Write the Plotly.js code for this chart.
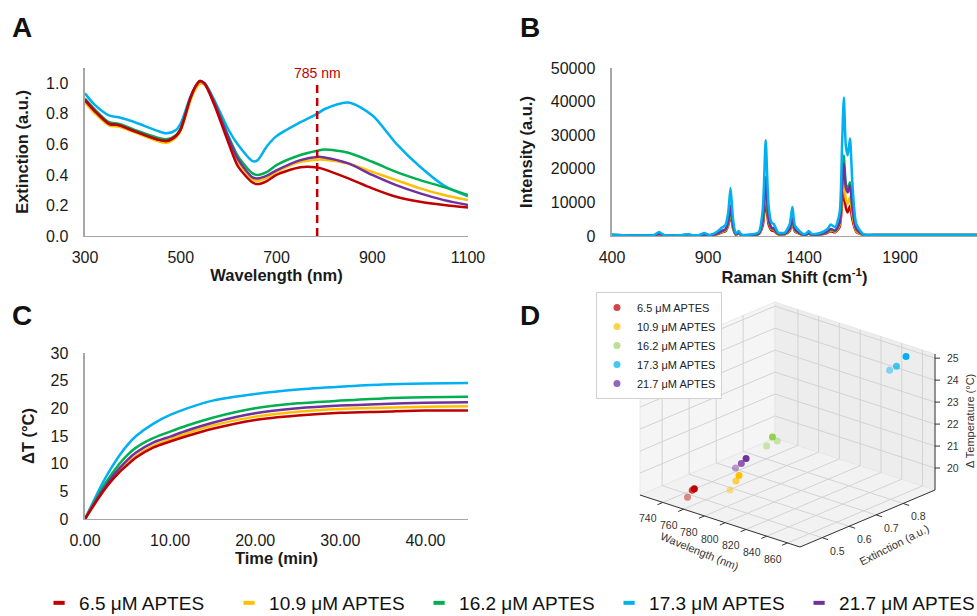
<!DOCTYPE html>
<html><head><meta charset="utf-8">
<script src="https://cdn.plot.ly/plotly-3.0.1.min.js"></script>
<style>html,body{margin:0;padding:0;background:#fff}#chart{width:977px;height:616px}</style>
</head><body><div id="chart"></div>
<script>
// ---------- common ----------
const seriesNames = ['6.5 μM APTES','10.9 μM APTES','16.2 μM APTES','17.3 μM APTES','21.7 μM APTES'];
const lineColors = ['#c00000','#ffc000','#00b050','#00b0f0','#7030a0'];
const dotColors  = ['#c00000','#ffc000','#92d050','#00b0f0','#7030a0'];

// ---------- Panel A: extinction spectra ----------
const wlA = [300,320,350,370,400,450,470,490,500,520,530,540,550,570,600,620,650,660,680,700,750,785,800,850,900,950,1000,1050,1100];
const extA_65  = [0.89,0.82,0.735,0.727,0.69,0.633,0.622,0.655,0.70,0.90,0.975,1.015,0.995,0.86,0.607,0.454,0.35,0.34,0.36,0.40,0.45,0.448,0.436,0.377,0.312,0.257,0.224,0.203,0.187];
const extA_109 = [0.873,0.805,0.725,0.716,0.683,0.624,0.611,0.645,0.69,0.885,0.955,0.996,0.99,0.87,0.63,0.487,0.371,0.362,0.38,0.42,0.486,0.50,0.50,0.475,0.42,0.366,0.312,0.268,0.235];
const extA_162 = [0.90,0.83,0.745,0.735,0.70,0.646,0.633,0.66,0.705,0.90,0.97,1.01,0.995,0.88,0.65,0.52,0.41,0.40,0.42,0.464,0.53,0.558,0.566,0.545,0.486,0.42,0.366,0.32,0.268];
const extA_173 = [0.934,0.86,0.79,0.777,0.75,0.69,0.672,0.694,0.738,0.91,0.974,1.01,1.0,0.89,0.694,0.596,0.49,0.495,0.588,0.654,0.745,0.80,0.83,0.874,0.79,0.605,0.453,0.33,0.26];
const extA_217 = [0.89,0.82,0.735,0.727,0.69,0.633,0.622,0.655,0.70,0.905,0.975,1.015,1.0,0.875,0.64,0.50,0.384,0.377,0.395,0.43,0.497,0.518,0.514,0.475,0.40,0.333,0.279,0.235,0.203];
const laserLine = 785;

// ---------- Panel B: Raman spectra ----------
const ramanShift = [400,620,645,670,760,790,820,855,880,905,945,972,990,1005,1017,1030,1045,1059,1075,1130,1165,1185,1200,1215,1230,1242,1265,1300,1325,1339,1353,1395,1412,1424,1440,1480,1520,1539,1562,1585,1598,1607,1617,1627,1639,1651,1672,1710,1800,2100,2300];
const int_65  = [300,250,500,250,200,280,200,250,380,200,500,1100,1400,3200,6600,2300,380,750,260,280,600,3200,10600,3500,1700,1500,500,500,1500,3700,1300,320,400,650,320,400,900,1400,1100,2700,9600,14000,8500,7000,9000,5000,1200,320,300,300,300];
const int_109 = [300,250,600,250,200,300,200,250,420,200,600,1250,1650,3700,7500,2600,400,850,280,300,700,4200,14500,4600,2100,1900,600,600,1700,4300,1500,350,430,750,350,430,1050,1700,1300,3300,12000,17500,11000,9600,11600,6500,1500,350,300,300,300];
const int_162 = [300,250,650,250,200,330,200,250,470,200,650,1400,1800,4000,8000,2900,450,950,300,330,750,4600,16000,5100,2300,2100,650,650,1900,4800,1700,380,480,850,380,480,1250,2000,1500,4200,16500,24000,15500,14000,16000,8800,2000,400,300,300,300];
const int_173 = [400,300,1200,300,250,500,250,300,900,300,1200,2500,3200,7000,14300,5000,700,1500,400,500,1200,8000,28500,9000,4000,3600,1000,1000,3500,8600,3000,600,800,1500,600,800,2000,3400,2600,7000,28000,41200,27000,24000,29000,16000,3500,500,300,300,300];
const int_217 = [300,250,700,250,200,350,200,250,500,200,700,1500,2000,4400,9100,3200,500,1000,300,350,800,5000,17500,5500,2500,2300,700,700,2100,5200,1900,400,500,900,400,500,1300,2100,1600,4000,15000,21500,14500,13000,15000,8500,2000,400,300,300,300];

// ---------- Panel C: photothermal heating ----------
const timeMin = [0,1,2,3,4,5,6,8,10,12,15,20,25,30,35,40,45];
const dT_65  = [0,2.4,4.7,6.7,8.4,9.8,11.1,12.9,14.0,15.0,16.3,17.9,18.7,19.2,19.4,19.6,19.6];
const dT_109 = [0,2.5,4.8,6.9,8.7,10.1,11.4,13.2,14.4,15.5,16.9,18.5,19.4,19.9,20.1,20.3,20.4];
const dT_162 = [0,2.8,5.5,7.8,9.9,11.6,12.9,14.6,15.8,16.9,18.3,20.0,20.9,21.4,21.8,22.0,22.1];
const dT_173 = [0,3.2,6.3,9.0,11.4,13.4,15.0,17.2,18.8,20.0,21.4,22.6,23.4,23.9,24.3,24.5,24.6];
const dT_217 = [0,2.6,5.0,7.2,9.1,10.7,12.0,13.8,14.9,16.0,17.4,19.1,20.0,20.5,20.8,21.0,21.1];

// ---------- Panel D: 3D scatter (wavelength, extinction, ΔT) ----------
const d3_wl  = [[758,760,762],[786,789,792],[803,806,808],[846,850,854],[786,789,791]];
const d3_ext = [[0.44,0.45,0.45],[0.49,0.50,0.50],[0.56,0.57,0.58],[0.85,0.86,0.88],[0.51,0.52,0.53]];
const d3_dT  = [[19.4,19.7,19.8],[19.9,20.3,20.6],[21.8,22.2,22.0],[24.4,24.6,25.0],[20.8,21.0,21.2]];
const d3_wlTicks  = [740,760,780,800,820,840,860];
const d3_extTicks = [0.5,0.6,0.7,0.8];
const d3_dTTicks  = [20,21,22,23,24,25];

const specA = [extA_65, extA_109, extA_162, extA_173, extA_217];
const specB = [int_65, int_109, int_162, int_173, int_217];
const curvesC = [dT_65, dT_109, dT_162, dT_173, dT_217];

const FONT = 'Arial, "Liberation Sans", sans-serif';
const traces = [];
const drawOrder = [3,2,1,4,0];
drawOrder.forEach(i => traces.push({type:'scatter', mode:'lines', x:wlA, y:specA[i], xaxis:'x', yaxis:'y',
  line:{color:lineColors[i], width:2.5, shape:'spline', smoothing:0.8}, showlegend:false, name:seriesNames[i]}));
[0,1,2,4,3].forEach(i => traces.push({type:'scatter', mode:'lines', x:ramanShift, y:specB[i], xaxis:'x2', yaxis:'y2',
  line:{color:lineColors[i], width:2.5, shape:'spline', smoothing:0.6}, showlegend:false, name:seriesNames[i]}));
drawOrder.forEach(i => traces.push({type:'scatter', mode:'lines', x:timeMin, y:curvesC[i], xaxis:'x3', yaxis:'y3',
  line:{color:lineColors[i], width:2.5, shape:'spline', smoothing:0.8}, showlegend:false, name:seriesNames[i]}));

// ---- Panel D: oblique projection of the 3D box (WebGL-free) ----
const box = {wl:[718,872], ext:[0.418,0.918], dT:[19.0,25.19]};
const O = [640,495], EX = [160,52], EY = [135,-57], EZ = [0,-136];
function P(wl, ext, t){
  const a=(wl-box.wl[0])/(box.wl[1]-box.wl[0]), b=(ext-box.ext[0])/(box.ext[1]-box.ext[0]), c=(t-box.dT[0])/(box.dT[1]-box.dT[0]);
  return [O[0]+a*EX[0]+b*EY[0]+c*EZ[0], O[1]+a*EX[1]+b*EY[1]+c*EZ[1]];
}
function depth(wl, ext, t){
  const a=(wl-box.wl[0])/(box.wl[1]-box.wl[0]), b=(ext-box.ext[0])/(box.ext[1]-box.ext[0]), c=(t-box.dT[0])/(box.dT[1]-box.dT[0]);
  return -(0.43*a - 0.75*b + 0.5*c);
}
for (let i=0;i<5;i++){
  const px=[], py=[], op=[];
  const ds = d3_wl[i].map((w,k)=>depth(w,d3_ext[i][k],d3_dT[i][k]));
  const dmin=Math.min(...ds), dmax=Math.max(...ds);
  d3_wl[i].forEach((w,k)=>{ const p=P(w,d3_ext[i][k],d3_dT[i][k]); px.push(p[0]); py.push(p[1]);
    op.push(dmax>dmin ? 1-0.55*(ds[k]-dmin)/(dmax-dmin) : 1); });
  traces.push({type:'scatter', mode:'markers', x:px, y:py, xaxis:'x4', yaxis:'y4', cliponaxis:false,
    marker:{color:dotColors[i], size:7, opacity:op, line:{width:0}}, name:seriesNames[i], legend:'legend2'});
}
// bottom shared legend
for (let i=0;i<5;i++) traces.push({type:'scatter', mode:'markers', x:[null], y:[null], xaxis:'x', yaxis:'y',
  marker:{symbol:'line-ew', size:8, color:lineColors[i], line:{color:lineColors[i], width:4}}, name:seriesNames[i], legend:'legend', showlegend:true});

const shapes = [{type:'line', xref:'x', yref:'y', x0:laserLine, x1:laserLine, y0:0, y1:1.02,
    line:{color:'#c00000', width:2.5, dash:'8px,5px'}}];
const ann = [];
function poly(pts, fill, lc){
  shapes.push({type:'path', xref:'x4', yref:'y4', layer:'below', path:'M'+pts.map(p=>p[0].toFixed(1)+','+p[1].toFixed(1)).join(' L')+' Z',
    fillcolor:fill, line:{color:lc, width:0.8}});
}
function seg(p, q, col, w){
  shapes.push({type:'line', xref:'x4', yref:'y4', layer:'below', x0:p[0], y0:p[1], x1:q[0], y1:q[1], line:{color:col, width:w}});
}
const W0=box.wl[0], W1=box.wl[1], E0=box.ext[0], E1=box.ext[1], T0=box.dT[0], T1=box.dT[1];
// panes: floor, back-left wall (wl=min), back-right wall (ext=max)
poly([P(W0,E0,T0),P(W1,E0,T0),P(W1,E1,T0),P(W0,E1,T0)], '#f2f2f2', '#e6e6e6');
poly([P(W0,E0,T0),P(W0,E1,T0),P(W0,E1,T1),P(W0,E0,T1)], '#f5f5f5', '#e6e6e6');
poly([P(W0,E1,T0),P(W1,E1,T0),P(W1,E1,T1),P(W0,E1,T1)], '#ededed', '#e6e6e6');
const GC = '#d3d3d3';
d3_wlTicks.forEach(w=>{ seg(P(w,E0,T0),P(w,E1,T0),GC,1); seg(P(w,E1,T0),P(w,E1,T1),GC,1); });
d3_extTicks.forEach(e=>{ seg(P(W0,e,T0),P(W1,e,T0),GC,1); seg(P(W0,e,T0),P(W0,e,T1),GC,1); });
d3_dTTicks.forEach(t=>{ seg(P(W0,E0,t),P(W0,E1,t),GC,1); seg(P(W0,E1,t),P(W1,E1,t),GC,1); });
// axis lines
const AC = '#333';
seg(P(W0,E0,T0),P(W1,E0,T0),AC,1);
seg(P(W1,E0,T0),P(W1,E1,T0),AC,1);
seg(P(W1,E1,T0),P(W1,E1,T1),AC,1);
const tickFontD = {size:10.5, color:'#333', family:FONT};
d3_wlTicks.forEach(w=>{ const p=P(w,E0,T0); seg(p,[p[0]-5.4,p[1]+2.3],AC,1);
  ann.push({text:String(w), xref:'x4', yref:'y4', x:p[0]-15, y:p[1]+16, showarrow:false, font:tickFontD, xanchor:'center', yanchor:'middle'}); });
d3_extTicks.forEach(e=>{ const p=P(W1,e,T0); seg(p,[p[0]+6,p[1]+2],AC,1);
  ann.push({text:e.toFixed(1), xref:'x4', yref:'y4', x:p[0]+15, y:p[1]+13, showarrow:false, font:tickFontD, xanchor:'center', yanchor:'middle'}); });
d3_dTTicks.forEach(t=>{ const p=P(W1,E1,t); seg(p,[p[0]+5,p[1]],AC,1);
  ann.push({text:String(t), xref:'x4', yref:'y4', x:p[0]+18, y:p[1], showarrow:false, font:tickFontD, xanchor:'center', yanchor:'middle'}); });
const titleFontD = {size:11, color:'#333', family:FONT};
ann.push({text:'Wavelength (nm)', xref:'x4', yref:'y4', x:699, y:551, textangle:22, showarrow:false, font:titleFontD});
ann.push({text:'Extinction (a.u.)', xref:'x4', yref:'y4', x:894, y:545, textangle:-27, showarrow:false, font:titleFontD});
ann.push({text:'Δ Temperature (°C)', xref:'x4', yref:'y4', x:970, y:421, textangle:-90, showarrow:false, font:titleFontD});

// panel letters and laser label
[['A',22,28],['B',530,28],['C',22,315],['D',530,315]].forEach(l=>ann.push({text:'<b>'+l[0]+'</b>', xref:'paper', yref:'paper',
  x:l[1]/977, y:1-l[2]/616, xanchor:'center', yanchor:'middle', showarrow:false, font:{size:28, color:'#111', family:FONT}}));
ann.push({text:'785 nm', xref:'x', yref:'y', x:laserLine, y:1.065, showarrow:false, font:{size:14, color:'#c00000', family:FONT}});

const axBase = {showline:true, linecolor:'#a6a6a6', linewidth:1.5, ticks:'', showgrid:false, zeroline:false,
  tickfont:{size:16, color:'#1a1a1a', family:FONT}, ticklabelstandoff:6};
const titleFont = {size:16.5, color:'#1a1a1a', family:FONT, weight:'bold'};

const layout = {
  width:977, height:616, margin:{l:0,r:0,t:0,b:0,autoexpand:false}, paper_bgcolor:'#fff', plot_bgcolor:'rgba(0,0,0,0)',
  font:{family:FONT, color:'#1a1a1a'}, hovermode:false,
  xaxis: Object.assign({}, axBase, {domain:[0.087,0.479], anchor:'y', range:[300,1100], tickvals:[300,500,700,900,1100],
     title:{text:'Wavelength (nm)', font:titleFont, standoff:0}}),
  yaxis: Object.assign({}, axBase, {domain:[0.6169,0.8896], anchor:'x', range:[0,1.1], tickvals:[0,0.2,0.4,0.6,0.8,1.0], tickformat:'.1f',
     ticklabelstandoff:12, title:{text:'Extinction (a.u.)', font:titleFont, standoff:13}}),
  xaxis2: Object.assign({}, axBase, {domain:[0.6264,1], anchor:'y2', range:[400,2300], tickvals:[400,900,1400,1900],
     title:{text:'Raman Shift (cm<sup>-1</sup>)', font:titleFont, standoff:0}}),
  yaxis2: Object.assign({}, axBase, {domain:[0.6169,0.8896], anchor:'x2', range:[0,50000], tickvals:[0,10000,20000,30000,40000,50000], tickformat:'d',
     ticklabelstandoff:12, title:{text:'Intensity (a.u.)', font:titleFont, standoff:14}}),
  xaxis3: Object.assign({}, axBase, {domain:[0.087,0.479], anchor:'y3', range:[0,45], tickvals:[0,10,20,30,40], tickformat:'.2f',
     title:{text:'Time (min)', font:titleFont, standoff:2}}),
  yaxis3: Object.assign({}, axBase, {domain:[0.1575,0.4269], anchor:'x3', range:[0,30], tickvals:[0,5,10,15,20,25,30],
     ticklabelstandoff:12, title:{text:'ΔT (°C)', font:titleFont, standoff:11}}),
  xaxis4: {domain:[560/977,1], anchor:'y4', range:[560,977], visible:false, fixedrange:true},
  yaxis4: {domain:[0,1-285/616], anchor:'x4', range:[616,285], visible:false, fixedrange:true},
  legend:{orientation:'h', x:0.04, xanchor:'left', y:1-603/616, yanchor:'middle', font:{size:19, family:FONT, color:'#111'},
    entrywidth:145, itemwidth:30, bgcolor:'rgba(0,0,0,0)'},
  legend2:{x:0.610, y:1-292/616, xanchor:'left', yanchor:'top', bgcolor:'#fff', bordercolor:'#d0d0d0', borderwidth:1,
    font:{size:11, family:FONT, color:'#222'}, itemwidth:30},
  shapes: shapes,
  annotations: ann
};
Plotly.newPlot('chart', traces, layout, {staticPlot:true, displayModeBar:false});
</script></body></html>
